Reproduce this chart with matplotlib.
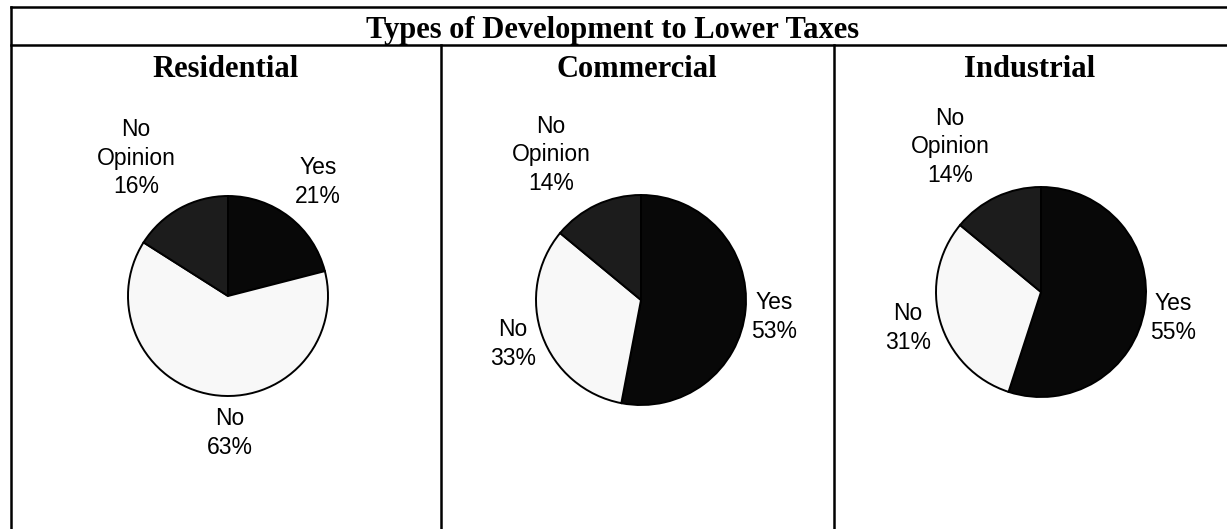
import matplotlib
matplotlib.use("Agg")
import matplotlib.pyplot as plt
from matplotlib.lines import Line2D

# data
title = "Types of Development to Lower Taxes"
panels = ["Residential", "Commercial", "Industrial"]
categories = ["Yes", "No", "No\nOpinion"]
residential = [21, 63, 16]
commercial = [53, 33, 14]
industrial = [55, 31, 14]
values = [residential, commercial, industrial]

colors = ["#080808", "#f8f8f8", "#1c1c1c"]

W, H = 1227, 529
fig = plt.figure(figsize=(W / 100, H / 100), dpi=100)
ax = fig.add_axes([0, 0, 1, 1])

def py(y):
    # pixel row from top -> data y
    return H - y

# table lines (pixels)
lw = 1.8
ax.add_line(Line2D([11, W], [py(7), py(7)], color="black", lw=lw))
ax.add_line(Line2D([11, W], [py(45), py(45)], color="black", lw=lw))
ax.add_line(Line2D([11, 11], [py(7), 0], color="black", lw=lw))
for x in (441, 834):
    ax.add_line(Line2D([x, x], [py(45), 0], color="black", lw=lw))

serif = ["Liberation Serif", "DejaVu Serif"]
sans = ["Liberation Sans", "DejaVu Sans"]

ax.text(613, py(38), title, ha="center", va="baseline", fontsize=22,
        fontweight="bold", family=serif)

title_x = [226, 637, 1030]
centers = [(228, 296), (641, 300), (1041, 292)]
radii = [100, 105, 105]
# label offsets from pie centre, pixels
label_off = [
    [(90, -114), (2, 137), (-92, -138)],
    [(133, 17), (-128, 44), (-90, -145)],
    [(132, 26), (-133, 36), (-91, -145)],
]

for i, name in enumerate(panels):
    ax.text(title_x[i], py(77), name, ha="center", va="baseline", fontsize=22,
            fontweight="bold", family=serif)
    cx, cy = centers[i]
    ax.pie(values[i], colors=colors, startangle=90, counterclock=False,
           center=(cx, py(cy)), radius=radii[i],
           wedgeprops=dict(edgecolor="black", linewidth=1.4))
    for j, v in enumerate(values[i]):
        dx, dy = label_off[i][j]
        ax.text(cx + dx, py(cy + dy), f"{categories[j]}\n{v}%", ha="center",
                va="center", fontsize=16.5, family=sans, linespacing=1.3)

ax.set_xlim(0, W)
ax.set_ylim(0, H)
ax.set_aspect("auto")
ax.axis("off")

fig.savefig("out.png", dpi=100)
